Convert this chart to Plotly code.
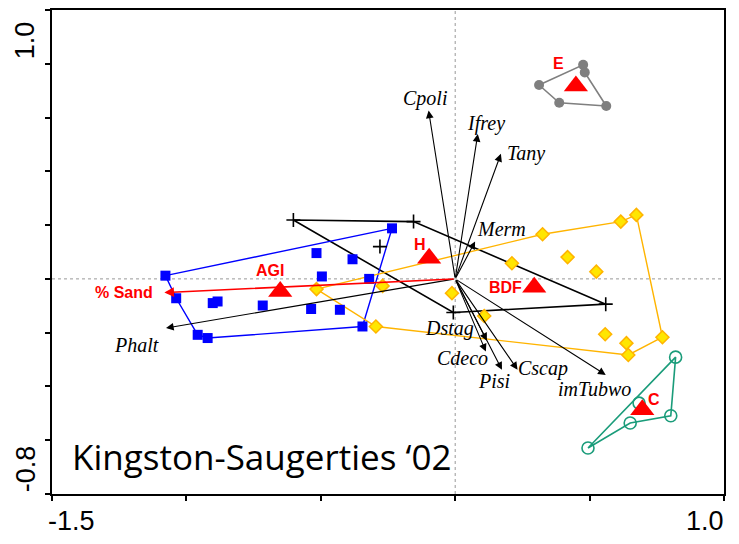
import plotly.graph_objects as go

# ---------------- data ----------------
# Site scores by group
agi_x = [-1.078, -1.038, -0.958, -0.921, -0.345, -0.235, -0.902, -0.884, -0.716, -0.536, -0.429, -0.516, -0.382, -0.496, -0.320]
agi_y = [0.012, -0.072, -0.208, -0.220, -0.177, 0.188, -0.090, -0.084, -0.099, -0.112, -0.115, 0.096, 0.073, 0.009, 0.000]
agi_hull = [0, 5, 4, 3, 2, 1, 0]

h_x = [-0.602, -0.155, -0.280, -0.007, 0.560]
h_y = [0.219, 0.213, 0.120, -0.125, -0.094]
h_hull = [0, 1, 4, 3, 0]

bdf_x = [-0.516, -0.270, -0.295, -0.012, 0.108, 0.211, 0.325, 0.418, 0.525, 0.616, 0.674, 0.771, 0.558, 0.637, 0.644]
bdf_y = [-0.038, -0.026, -0.177, -0.053, -0.138, 0.058, 0.166, 0.081, 0.027, 0.213, 0.238, -0.217, -0.206, -0.239, -0.283]
bdf_hull = [0, 6, 9, 10, 11, 14, 2, 0]

e_x = [0.312, 0.387, 0.562, 0.476, 0.482]
e_y = [0.721, 0.655, 0.643, 0.796, 0.768]
e_hull = [0, 3, 4, 2, 1, 0]

c_x = [0.820, 0.802, 0.651, 0.494, 0.684]
c_y = [-0.291, -0.509, -0.536, -0.629, -0.462]
c_hull = [3, 0, 1, 2, 3]

# Group centroids
group_names = ["AGI", "H", "BDF", "E", "C"]
centroid_x = [-0.651, -0.097, 0.294, 0.449, 0.696]
centroid_y = [-0.047, 0.077, -0.031, 0.717, -0.487]

# Species / environmental vectors (arrow tips)
species = ["Cpoli", "Ifrey", "Tany", "Merm", "Dstag", "Cdeco", "Pisi", "Cscap", "imTubwo", "Phalt"]
species_x = [-0.099, 0.084, 0.170, 0.074, 0.118, 0.114, 0.174, 0.232, 0.560, -1.076]
species_y = [0.626, 0.539, 0.465, 0.139, -0.230, -0.270, -0.338, -0.338, -0.357, -0.183]

env_name = "% Sand"
env_x = -1.082
env_y = -0.051

title_text = "Kingston-Saugerties \u201802"
x_tick_labels = ["-1.5", "1.0"]
y_tick_labels = ["1.0", "-0.8"]

# ---------------- styles / positions ----------------
group_label_pos = {"AGI": (-0.688, 0.030), "H": (-0.131, 0.128), "BDF": (0.186, -0.032),
                   "E": (0.384, 0.800), "C": (0.740, -0.447)}
species_label_pos = {"Cpoli": (-0.112, 0.672), "Ifrey": (0.116, 0.579), "Tany": (0.262, 0.465),
                     "Merm": (0.172, 0.185), "Dstag": (-0.020, -0.183), "Cdeco": (0.027, -0.295),
                     "Pisi": (0.145, -0.379), "Cscap": (0.327, -0.335), "imTubwo": (0.517, -0.409),
                     "Phalt": (-1.187, -0.245)}

BLUE = "#0000ff"
YEL_FILL = "#ffe600"
YEL_LINE = "#ffb400"
GRAY = "#7f7f7f"
GREEN = "#1a9c7a"
RED = "#ff0000"

fig = go.Figure()


def hull_trace(xs, ys, idx, color, width):
    return go.Scatter(x=[xs[i] for i in idx], y=[ys[i] for i in idx], mode="lines",
                      line=dict(color=color, width=width), hoverinfo="skip", showlegend=False)


fig.add_trace(hull_trace(h_x, h_y, h_hull, "black", 1.6))
fig.add_trace(hull_trace(agi_x, agi_y, agi_hull, BLUE, 1.4))
fig.add_trace(hull_trace(bdf_x, bdf_y, bdf_hull, YEL_LINE, 1.4))
fig.add_trace(hull_trace(e_x, e_y, e_hull, GRAY, 1.6))
fig.add_trace(hull_trace(c_x, c_y, c_hull, GREEN, 1.6))

fig.add_trace(go.Scatter(x=h_x, y=h_y, mode="markers", showlegend=False,
                         marker=dict(symbol="cross-thin", size=10, line=dict(color="black", width=1.6))))
fig.add_trace(go.Scatter(x=agi_x, y=agi_y, mode="markers", showlegend=False,
                         marker=dict(symbol="square", size=10, color=BLUE, line=dict(width=0))))
fig.add_trace(go.Scatter(x=bdf_x, y=bdf_y, mode="markers", showlegend=False,
                         marker=dict(symbol="diamond", size=10, color=YEL_FILL,
                                     line=dict(color=YEL_LINE, width=1.5))))
fig.add_trace(go.Scatter(x=e_x, y=e_y, mode="markers", showlegend=False,
                         marker=dict(symbol="circle", size=10, color=GRAY, line=dict(width=0))))
fig.add_trace(go.Scatter(x=c_x, y=c_y, mode="markers", showlegend=False,
                         marker=dict(symbol="circle-open", size=12, color=GREEN, line=dict(width=1.6))))

fig.add_trace(go.Scatter(x=centroid_x, y=centroid_y, mode="markers", showlegend=False,
                         marker=dict(symbol="triangle-up", size=21, color=RED, line=dict(width=0))))

annotations = []
# arrows
for name, sx, sy in zip(species, species_x, species_y):
    annotations.append(dict(x=sx, y=sy, ax=0, ay=0, xref="x", yref="y", axref="x", ayref="y",
                            text="", showarrow=True, arrowhead=2, arrowsize=1.4, arrowwidth=1.1,
                            arrowcolor="black"))
annotations.append(dict(x=env_x, y=env_y, ax=0, ay=0, xref="x", yref="y", axref="x", ayref="y",
                        text="", showarrow=True, arrowhead=2, arrowsize=1.2, arrowwidth=1.6,
                        arrowcolor=RED))
# species labels (italic serif)
for name in species:
    lx, ly = species_label_pos[name]
    annotations.append(dict(x=lx, y=ly, xref="x", yref="y", text="<i>" + name + "</i>", showarrow=False,
                            font=dict(family="Liberation Serif", size=20, color="black"),
                            xanchor="center", yanchor="middle"))
# env label
annotations.append(dict(x=-1.117, y=-0.049, xref="x", yref="y", text="<b>" + env_name + "</b>",
                        showarrow=False, xanchor="right", yanchor="middle",
                        font=dict(family="Liberation Sans", size=16, color=RED)))
# group labels
for name in group_names:
    lx, ly = group_label_pos[name]
    annotations.append(dict(x=lx, y=ly, xref="x", yref="y", text="<b>" + name + "</b>",
                            showarrow=False, xanchor="center", yanchor="middle",
                            font=dict(family="Liberation Sans", size=16, color=RED)))
# title inside plot
annotations.append(dict(x=-1.432, y=-0.660, xref="x", yref="y", text=title_text, showarrow=False,
                        xanchor="left", yanchor="middle",
                        font=dict(family="Open Sans", size=35, color="black")))
# custom tick labels
tick_font = dict(family="Liberation Sans", size=27, color="black")
annotations.append(dict(x=-1.5, y=-0.055, xref="x", yref="paper", text=x_tick_labels[0], showarrow=False,
                        xanchor="left", yanchor="middle", xshift=-6, font=tick_font))
annotations.append(dict(x=1.0, y=-0.055, xref="x", yref="paper", text=x_tick_labels[1], showarrow=False,
                        xanchor="right", yanchor="middle", xshift=2, font=tick_font))
annotations.append(dict(x=-0.039, y=0.965, xref="paper", yref="y", text=y_tick_labels[0], showarrow=False,
                        textangle=-90, xanchor="center", yanchor="top", font=tick_font))
annotations.append(dict(x=-0.039, y=-0.8, xref="paper", yref="y", text=y_tick_labels[1], showarrow=False,
                        textangle=-90, xanchor="center", yanchor="bottom", font=tick_font))

shapes = [
    dict(type="line", xref="x", yref="paper", x0=0, x1=0, y0=0, y1=1,
         line=dict(color="#999999", width=1, dash="dot"), layer="below"),
    dict(type="line", xref="paper", yref="y", x0=0, x1=1, y0=0, y1=0,
         line=dict(color="#999999", width=1, dash="dot"), layer="below"),
]

# the page body adds an 8px offset, so the figure is 731x536 placed at (8, 8)
fig.update_layout(
    template="none",
    width=731, height=536,
    margin=dict(l=44, r=15, t=2, b=50, autoexpand=False),
    paper_bgcolor="white", plot_bgcolor="white",
    font=dict(color="black"),
    showlegend=False,
    annotations=annotations,
    shapes=shapes,
    xaxis=dict(range=[-1.5, 1.0], showgrid=False, zeroline=False, showline=True, mirror=True,
               automargin=False,
               linecolor="black", linewidth=1.6, ticks="outside", ticklen=5, tickwidth=1.6,
               tickcolor="black", tickvals=[-1.5, -1.0, -0.5, 0, 0.5, 1.0], showticklabels=False),
    yaxis=dict(range=[-0.8, 1.0], showgrid=False, zeroline=False, showline=True, mirror=True,
               automargin=False,
               linecolor="black", linewidth=1.6, ticks="outside", ticklen=5, tickwidth=1.6,
               tickcolor="black", tickvals=[-0.8, -0.6, -0.4, -0.2, 0, 0.2, 0.4, 0.6, 0.8, 1.0],
               showticklabels=False),
)

fig.write_html("out.html")
